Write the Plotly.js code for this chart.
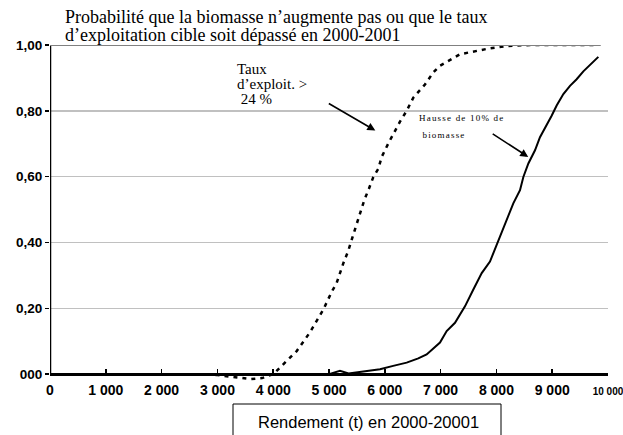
<!DOCTYPE html>
<html><head><meta charset="utf-8">
<script src="https://cdn.plot.ly/plotly-3.0.1.min.js"></script>
<style>html,body{margin:0;padding:0;background:#fff}</style>
</head><body><div id="chart" style="width:623px;height:435px"></div>
<script>
// Data
const tauxX = [2000, 2400, 2800, 3000, 3300, 3600, 3800, 4000, 4122, 4421, 4659, 4779, 4898, 5048, 5137, 5257, 5346, 5406, 5495, 5555, 5633, 5717, 5794, 5884, 5944, 6075, 6153, 6272, 6392, 6511, 6720, 6870, 6989, 7348, 7885, 8184, 8600, 9000, 9400, 9820];
const tauxY = [0, 0, 0, -0.003, -0.01, -0.015, -0.012, 0, 0.02, 0.07, 0.127, 0.16, 0.196, 0.25, 0.277, 0.337, 0.375, 0.408, 0.458, 0.489, 0.529, 0.564, 0.599, 0.624, 0.66, 0.705, 0.73, 0.767, 0.80, 0.84, 0.88, 0.917, 0.937, 0.972, 0.99, 0.997, 1.0, 1.0, 1.0, 1.0];
const hausseX = [5000, 5197, 5350, 5675, 5914, 6150, 6392, 6600, 6750, 6989, 7109, 7258, 7437, 7587, 7737, 7885, 8005, 8095, 8214, 8303, 8423, 8483, 8573, 8692, 8781, 8901, 8990, 9080, 9200, 9319, 9438, 9558, 9677, 9827];
const hausseY = [0, 0.01, 0.002, 0.01, 0.015, 0.025, 0.035, 0.048, 0.06, 0.096, 0.131, 0.156, 0.206, 0.257, 0.307, 0.342, 0.393, 0.433, 0.478, 0.519, 0.559, 0.599, 0.64, 0.68, 0.72, 0.755, 0.785, 0.816, 0.851, 0.876, 0.896, 0.92, 0.94, 0.964];
const xTickVals = [0, 1000, 2000, 3000, 4000, 5000, 6000, 7000, 8000, 9000, 10000];
const xTickText = ['0', '1 000', '2 000', '3 000', '4 000', '5 000', '6 000', '7 000', '8 000', '9 000', '<span style="font-size:10px">10 000</span>'];
const yTickVals = [0, 0.2, 0.4, 0.6, 0.8, 1.0];
const yTickText = ['000', '0,20', '0,40', '0,60', '0,80', '1,00'];

const serif = 'Liberation Serif';
const sans = 'Liberation Sans';

// pixel helpers for text placement (paper coords)
const L = 50, R = 15, T = 45, B = 51;
const W = 623 - L - R, H = 435 - T - B;
const px = v => (v - L) / W;
const py = v => (435 - B - v) / H;

const traces = [
  {x: tauxX, y: tauxY, type: 'scatter', mode: 'lines', line: {color: '#000', width: 2.5, dash: '4px,5px'}, hoverinfo: 'skip'},
  {x: hausseX, y: hausseY, type: 'scatter', mode: 'lines', line: {color: '#000', width: 2}, hoverinfo: 'skip'}
];
const yMin = -0.03;
function txt(x, y, text, size, family, anchor, extra) {
  return Object.assign({xref: 'paper', yref: 'paper', x: px(x), y: py(y), xanchor: anchor || 'left', yanchor: 'middle', showarrow: false,
    text: text, font: {family: family, size: size, color: '#000'}}, extra || {});
}
const layout = {
  width: 623, height: 435,
  margin: {l: L, r: R, t: T, b: B},
  paper_bgcolor: '#fff', plot_bgcolor: '#fff',
  showlegend: false,
  xaxis: {
    range: [0, 10000], tickvals: xTickVals, ticktext: xTickText,
    anchor: 'free', position: (0 - yMin) / (1 - yMin),
    showline: true, linecolor: '#000', linewidth: 2.5,
    ticks: 'inside', ticklen: 4, tickcolor: '#000', tickwidth: 1.5,
    showgrid: false, zeroline: false,
    tickfont: {family: sans, size: 14, color: '#000', weight: 'bold'},
    ticklabelstandoff: 3, ticklabeloverflow: 'allow'
  },
  yaxis: {
    range: [yMin, 1.0], tickvals: yTickVals, ticktext: yTickText,
    showline: false, zeroline: false,
    ticks: 'outside', ticklen: 4, tickcolor: '#000', tickwidth: 1.5,
    showgrid: true, gridcolor: '#c0c0c0', gridwidth: 1.5,
    tickfont: {family: sans, size: 13.5, color: '#000', weight: 'bold'}
  },
  shapes: [
    {type: 'line', xref: 'x', yref: 'y', x0: 0, x1: 0, y0: 0, y1: 1, line: {color: '#000', width: 2.5}},
    {type: 'line', xref: 'x', yref: 'y', x0: 0, x1: 9870, y0: 1, y1: 1, line: {color: '#808080', width: 2}},
    {type: 'line', xref: 'x', yref: 'y', x0: 10040, x1: 10040, y0: 0, y1: 0.927, line: {color: '#a0a0a0', width: 1.5}},
    {type: 'rect', xref: 'paper', yref: 'paper', x0: px(233), x1: px(501), y0: py(460), y1: py(404), line: {color: '#000', width: 1}, fillcolor: 'rgba(0,0,0,0)'}
  ],
  annotations: [
    txt(63, 17, 'Probabilité que la biomasse n’augmente pas ou que le taux', 18, serif),
    txt(63, 35, 'd’exploitation cible soit dépassé en 2000-2001', 18, serif),
    txt(368, 422, 'Rendement (t) en 2000-20001', 16.5, sans, 'center'),
    txt(235, 69, 'Taux', 15, serif),
    txt(235, 84, 'd’exploit. >', 15, serif),
    txt(235, 99, ' 24 %', 15, serif),
    txt(417, 118, '<span style="letter-spacing:1.2px">Hausse de 10% de</span>', 9, serif),
    txt(417, 135, '<span style="letter-spacing:1.2px"> biomasse</span>', 9, serif),
    {xref: 'x', yref: 'y', x: 5830, y: 0.74, ax: -48, ay: -28, text: '', showarrow: true, arrowhead: 2, arrowsize: 1, arrowwidth: 1.6, arrowcolor: '#000'},
    {xref: 'x', yref: 'y', x: 8570, y: 0.66, ax: -37, ay: -24, text: '', showarrow: true, arrowhead: 2, arrowsize: 1, arrowwidth: 1.6, arrowcolor: '#000'}
  ]
};
Plotly.newPlot('chart', traces, layout, {staticPlot: true, displayModeBar: false});
</script></body></html>
